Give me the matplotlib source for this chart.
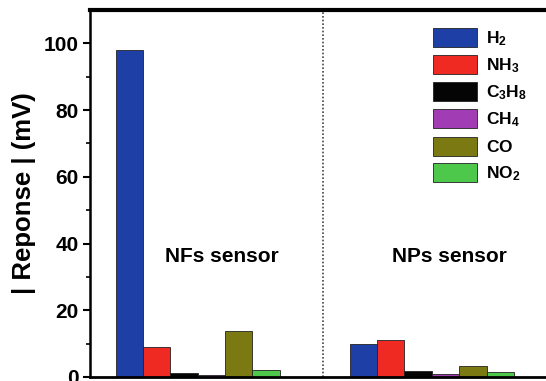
import matplotlib
matplotlib.use("Agg")
import matplotlib.pyplot as plt
import numpy as np

plt.rcParams['font.family'] = ['Liberation Sans', 'DejaVu Sans']
plt.rcParams['font.weight'] = 'bold'
plt.rcParams['mathtext.fontset'] = 'custom'
plt.rcParams['mathtext.bf'] = 'Liberation Sans:bold'
plt.rcParams['mathtext.rm'] = 'Liberation Sans:bold'

groups = ["NFs sensor", "NPs sensor"]
gases = [r"$\mathbf{H_2}$", r"$\mathbf{NH_3}$", r"$\mathbf{C_3H_8}$",
         r"$\mathbf{CH_4}$", r"$\mathbf{CO}$", r"$\mathbf{NO_2}$"]
h2 = [98.0, 9.8]
nh3 = [9.0, 11.2]
c3h8 = [1.3, 1.7]
ch4 = [0.7, 0.9]
co = [13.7, 3.3]
no2 = [2.0, 1.5]
series = [h2, nh3, c3h8, ch4, co, no2]
colors = ["#1e3fa6", "#ee2a22", "#050505", "#a23cb4", "#7b7a12", "#4ec84a"]

fig = plt.figure(figsize=(5.46, 3.81), dpi=100)
ax = fig.add_axes([90/546, 4/381, 470/546, 367/381])

w = 0.117
centers = np.arange(len(groups))
for i, (vals, c, lab) in enumerate(zip(series, colors, gases)):
    ax.bar(centers + (i - 2.5) * w, vals, width=w, color=c,
           edgecolor="#222222", linewidth=0.6, label=lab)

ax.axvline(0.534, color="#444444", linestyle=(0, (1, 1.2)), linewidth=1.2)

ax.set_xlim(-0.46, 1.548)
ax.set_ylim(0, 110)
ax.set_yticks([0, 20, 40, 60, 80, 100])
ax.set_yticks([10, 30, 50, 70, 90], minor=True)
ax.set_xticks([])
ax.tick_params(axis='y', which='major', direction='out', length=5, width=1.5,
               labelsize=15, pad=3)
ax.tick_params(axis='y', which='minor', direction='out', length=3, width=1.2)
for lbl in ax.get_yticklabels():
    lbl.set_fontweight('bold')
ax.set_ylabel("| Reponse | (mV)", fontsize=18.5, fontweight='bold', labelpad=6)

ax.spines['top'].set_linewidth(3)
ax.spines['left'].set_linewidth(1.8)
ax.spines['bottom'].set_linewidth(2)
ax.spines['right'].set_visible(False)

ax.text(0.103, 36.0, groups[0], fontsize=15, fontweight='bold', ha='center', va='center')
ax.text(1.077, 36.0, groups[1], fontsize=15, fontweight='bold', ha='center', va='center')

leg = ax.legend(loc='upper left', bbox_to_anchor=(0.703, 0.985), frameon=False,
                fontsize=12.5, handlelength=2.55, handleheight=1.3,
                labelspacing=0.42, handletextpad=0.55, borderaxespad=0.3)

fig.savefig("out.png", dpi=100)
